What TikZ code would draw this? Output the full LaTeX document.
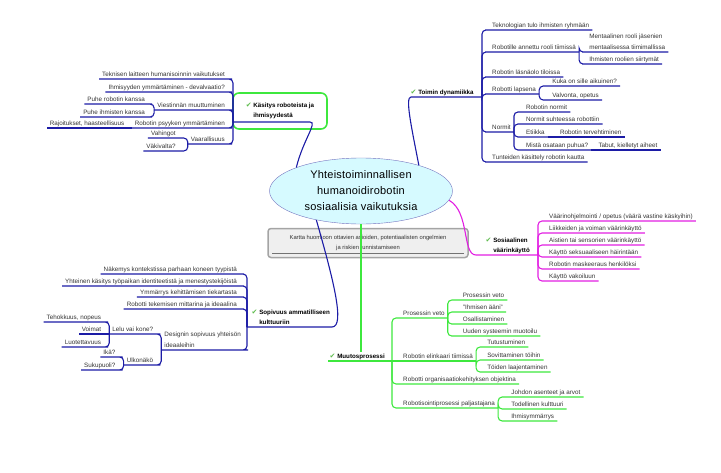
\documentclass[tikz,border=0pt]{standalone}
\usepackage{fontspec}
\setmainfont{Liberation Sans}
\newfontfamily\mmsym{DejaVu Sans}
\usepackage{xcolor}
\definecolor{mmnavy}{HTML}{1C1CA6}
\definecolor{mmpink}{HTML}{E21EE2}
\definecolor{mmgreen}{HTML}{3EE83E}
\definecolor{mmtick}{HTML}{5DBB4C}
\definecolor{mmtext}{HTML}{333333}
\definecolor{mmbubble}{HTML}{D6FAFF}
\definecolor{mmnote}{HTML}{EFEFEF}
\definecolor{mmframe}{HTML}{A4A4A4}
\usepackage{tikz}
\usetikzlibrary{calc,shapes.geometric}
\newcommand{\mmtick}{{\mmsym\color{mmtick}\fontsize{7}{7}\selectfont ✔}}
\tikzset{
  mmleaf/.style={font=\fontsize{6.3}{11}\selectfont,text=mmtext,inner xsep=3pt,inner ysep=1.5pt,text depth=1.3pt,align=left},
  mmright/.style={mmleaf,anchor=south west},
  mmleft/.style={mmleaf,anchor=south east},
  mmhead/.style={font=\bfseries\fontsize{6.2}{10}\selectfont,anchor=south west,inner sep=1.5pt,text depth=1.3pt,align=left},
  mmblue/.style={draw=mmnavy,line width=1.1pt,rounded corners=4pt},
  mmmagenta/.style={draw=mmpink,line width=1.1pt,rounded corners=4pt},
  mmlime/.style={draw=mmgreen,line width=1.1pt,rounded corners=4pt},
  bubble/.style={ellipse,draw=mmframe!70!blue,fill=mmbubble,minimum width=183pt,minimum height=66pt,inner sep=0pt,align=center,font=\fontsize{11}{16}\selectfont\addfontfeature{LetterSpace=2}},
  notebox/.style={draw=mmframe,line width=1.5pt,fill=mmnote,rounded corners=3pt,minimum width=200pt,minimum height=29pt,align=center,font=\fontsize{5.8}{10}\selectfont,text=mmtext},
  headbox/.style={draw=mmgreen,line width=1.6pt,rounded corners=6pt,minimum width=94pt,minimum height=36pt,font=\bfseries\fontsize{6.2}{10}\selectfont,align=left}
}

\begin{document}
\begin{tikzpicture}[x=1pt,y=-1pt]
\useasboundingbox (0,0) rectangle (721,472);

% centre topic and its note
\node[notebox] (note) at (368,243) {Kartta huomioon ottavien asioiden, potentiaalisten ongelmien\\ja riskien tunnistamiseen};
\draw[mmframe!70!black,line width=0.4pt] ($(note.south west)+(5,-5)$) -- ($(note.south east)+(-5,-5)$);
\node[bubble] (bub) at (361,191) {Yhteistoiminnallisen\\humanoidirobotin\\sosiaalisia vaikutuksia};

% Toimin dynamiikka
\node[mmhead] (tdl) at (409,97) {\mmtick\ Toimin dynamiikka};
\coordinate (tdfan) at (482,97);
\draw[mmblue] (bub.24) .. controls (411,125) and (405,97) .. (415,97) -- (tdfan);
\node[mmright] (td1) at (489,30) {Teknologian tulo ihmisten ryhmään};
\draw[mmblue] (tdfan) |- (td1.south west) -- (td1.south east);
\node[mmright] (td2) at (489,52) {Robotille annettu rooli tiimissä};
\draw[mmblue] (tdfan) |- (td2.south west) -- (td2.south east);
\node[mmright] (td2a) at ($(td2.south east)+(7,0)$) {Mentaalinen rooli jäsenien\\mentaalisessa tiimimallissa};
\draw[mmblue] (td2.south east) |- (td2a.south west) -- (td2a.south east);
\node[mmright] (td2b) at ($(td2.south east)+(7,12)$) {Ihmisten roolien siirtymät};
\draw[mmblue] (td2.south east) |- (td2b.south west) -- (td2b.south east);
\node[mmright] (td3) at (489,77) {Robotin läsnäolo tiloissa};
\draw[mmblue] (tdfan) |- (td3.south west) -- (td3.south east);
\node[mmright] (td4) at (489,94) {Robotti lapsena};
\draw[mmblue] (tdfan) |- (td4.south west) -- (td4.south east);
\node[mmright] (td4a) at ($(td4.south east)+(10,-8)$) {Kuka on sille aikuinen?};
\draw[mmblue] (td4.south east) |- (td4a.south west) -- (td4a.south east);
\node[mmright] (td4b) at ($(td4.south east)+(10,6)$) {Valvonta, opetus};
\draw[mmblue] (td4.south east) |- (td4b.south west) -- (td4b.south east);
\node[mmright] (td5) at (489,132) {Normit};
\draw[mmblue] (tdfan) |- (td5.south west) -- (td5.south east);
\node[mmright] (td5a) at ($(td5.south east)+(9,-20)$) {Robotin normit};
\draw[mmblue] (td5.south east) |- (td5a.south west) -- (td5a.south east);
\node[mmright] (td5b) at ($(td5.south east)+(9,-8)$) {Normit suhteessa robottiin};
\draw[mmblue] (td5.south east) |- (td5b.south west) -- (td5b.south east);
\node[mmright] (td5c) at ($(td5.south east)+(9,5)$) {Etiikka};
\draw[mmblue] (td5.south east) |- (td5c.south west) -- (td5c.south east);
\node[mmright] (td5c1) at ($(td5c.south east)+(9,0)$) {Robotin tervehtiminen};
\draw[mmblue] (td5c.south east) -- (td5c1.south west) -- (td5c1.south east);
\node[mmright] (td5d) at ($(td5.south east)+(9,18)$) {Mistä osataan puhua?};
\draw[mmblue] (td5.south east) |- (td5d.south west) -- (td5d.south east);
\node[mmright] (td5d1) at ($(td5d.south east)+(4,0)$) {Tabut, kielletyt aiheet};
\draw[mmblue] (td5d.south east) -- (td5d1.south west) -- (td5d1.south east);
\node[mmright] (td6) at (489,162) {Tunteiden käsittely robotin kautta};
\draw[mmblue] (tdfan) |- (td6.south west) -- (td6.south east);

% Kasitys roboteista ja ihmisyydesta
\node[headbox] (ktl) at (280,111) {\mmtick\ Käsitys roboteista ja\\\hphantom{\mmtick\ }ihmisyydestä};
\coordinate (ktfan) at (233,122);
\draw[mmblue] (bub.160) .. controls (303,140) and (318,122) .. (306,122) -- (ktfan);
\node[mmleft] (kt1) at (228,79) {Teknisen laitteen humanisoinnin vaikutukset};
\draw[mmblue] (ktfan) |- (kt1.south east) -- (kt1.south west);
\node[mmleft] (kt2) at (228,92) {Ihmisyyden ymmärtäminen - devalvaatio?};
\draw[mmblue] (ktfan) |- (kt2.south east) -- (kt2.south west);
\node[mmleft] (kt3) at (228,110) {Viestinnän muuttuminen};
\draw[mmblue] (ktfan) |- (kt3.south east) -- (kt3.south west);
\node[mmleft] (kt3a) at ($(kt3.south west)+(-6,-6)$) {Puhe robotin kanssa};
\draw[mmblue] (kt3.south west) |- (kt3a.south east) -- (kt3a.south west);
\node[mmleft] (kt3b) at ($(kt3.south west)+(-6,7)$) {Puhe ihmisten kanssa};
\draw[mmblue] (kt3.south west) |- (kt3b.south east) -- (kt3b.south west);
\node[mmleft] (kt4) at (228,128) {Robotin psyyken ymmärtäminen};
\draw[mmblue] (ktfan) |- (kt4.south east) -- (kt4.south west);
\node[mmleft] (kt4a) at ($(kt4.south west)+(-4,0)$) {Rajoitukset, haasteellisuus};
\draw[mmblue] (kt4.south west) -- (kt4a.south east) -- (kt4a.south west);
\node[mmleft] (kt5) at (228,144) {Vaarallisuus};
\draw[mmblue] (ktfan) |- (kt5.south east) -- (kt5.south west);
\node[mmleft] (kt5a) at ($(kt5.south west)+(-9,-6)$) {Vahingot};
\draw[mmblue] (kt5.south west) |- (kt5a.south east) -- (kt5a.south west);
\node[mmleft] (kt5b) at ($(kt5.south west)+(-9,7)$) {Väkivalta?};
\draw[mmblue] (kt5.south west) |- (kt5b.south east) -- (kt5b.south west);

% Sosiaalinen vaarinkaytto
\node[mmhead] (svl) at (484,255) {\mmtick\ Sosiaalinen\\\hphantom{\mmtick\ }väärinkäyttö};
\coordinate (svfan) at (538,255);
\draw[mmmagenta] (bub.-6) .. controls (470,212) and (462,255) .. (480,255) -- (svfan);
\node[mmright] (sv1) at (546,221) {Väärinohjelmointi / opetus (väärä vastine käskyihin)};
\draw[mmmagenta] (svfan) |- (sv1.south west) -- (sv1.south east);
\node[mmright] (sv2) at (546,233) {Liikkeiden ja voiman väärinkäyttö};
\draw[mmmagenta] (svfan) |- (sv2.south west) -- (sv2.south east);
\node[mmright] (sv3) at (546,245) {Aistien tai sensorien väärinkäyttö};
\draw[mmmagenta] (svfan) |- (sv3.south west) -- (sv3.south east);
\node[mmright] (sv4) at (546,257) {Käyttö seksuaaliseen häirintään};
\draw[mmmagenta] (svfan) |- (sv4.south west) -- (sv4.south east);
\node[mmright] (sv5) at (546,269) {Robotin maskeeraus henkilöksi};
\draw[mmmagenta] (svfan) |- (sv5.south west) -- (sv5.south east);
\node[mmright] (sv6) at (546,281) {Käyttö vakoiluun};
\draw[mmmagenta] (svfan) |- (sv6.south west) -- (sv6.south east);

% Sopivuus ammatilliseen kulttuuriin
\node[mmhead] (spl) at (250,327) {\mmtick\ Sopivuus ammatilliseen\\\hphantom{\mmtick\ }kulttuuriin};
\coordinate (spfan) at (247,327);
\draw[mmblue] (bub.213) .. controls (332,275) and (346,327) .. (328,327) -- (spfan);
\node[mmleft] (sp1) at (240,274) {Näkemys kontekstissa parhaan koneen tyypistä};
\draw[mmblue] (spfan) |- (sp1.south east) -- (sp1.south west);
\node[mmleft] (sp2) at (240,286) {Yhteinen käsitys työpaikan identiteetistä ja menestystekijöistä};
\draw[mmblue] (spfan) |- (sp2.south east) -- (sp2.south west);
\node[mmleft] (sp3) at (240,297) {Ymmärrys kehittämisen tiekartasta};
\draw[mmblue] (spfan) |- (sp3.south east) -- (sp3.south west);
\node[mmleft] (sp4) at (240,309) {Robotti tekemisen mittarina ja ideaalina};
\draw[mmblue] (spfan) |- (sp4.south east) -- (sp4.south west);
\node[mmleft] (sp5) at (244,350) {Designin sopivuus yhteisön\\ideaaleihin};
\draw[mmblue] (spfan) |- (sp5.south east) -- (sp5.south west);
\node[mmleft] (sp5a) at ($(sp5.south west)+(-5,-16)$) {Lelu vai kone?};
\draw[mmblue] (sp5.south west) |- (sp5a.south east) -- (sp5a.south west);
\node[mmleft] (sp5a1) at ($(sp5a.south west)+(-5,-12)$) {Tehokkuus, nopeus};
\draw[mmblue] (sp5a.south west) |- (sp5a1.south east) -- (sp5a1.south west);
\node[mmleft] (sp5a2) at ($(sp5a.south west)+(-5,0)$) {Voimat};
\draw[mmblue] (sp5a.south west) -- (sp5a2.south east) -- (sp5a2.south west);
\node[mmleft] (sp5a3) at ($(sp5a.south west)+(-5,13)$) {Luotettavuus};
\draw[mmblue] (sp5a.south west) |- (sp5a3.south east) -- (sp5a3.south west);
\node[mmleft] (sp5b) at ($(sp5.south west)+(-5,15)$) {Ulkonäkö};
\draw[mmblue] (sp5.south west) |- (sp5b.south east) -- (sp5b.south west);
\node[mmleft] (sp5b1) at ($(sp5b.south west)+(-5,-8)$) {Ikä?};
\draw[mmblue] (sp5b.south west) |- (sp5b1.south east) -- (sp5b1.south west);
\node[mmleft] (sp5b2) at ($(sp5b.south west)+(-5,5)$) {Sukupuoli?};
\draw[mmblue] (sp5b.south west) |- (sp5b2.south east) -- (sp5b2.south west);

% Muutosprosessi
\node[mmhead] (mpl) at (328,361) {\mmtick\ Muutosprosessi};
\coordinate (mpfan) at (392,361);
\draw[mmlime] (bub.south) -- (bub.south |- mpl.north);
\draw[mmlime] (mpl.south west) -- (mpfan);
\node[mmright] (mp1) at (400,318) {Prosessin veto};
\draw[mmlime] (mpfan) |- (mp1.south west) -- (mp1.south east);
\node[mmright] (mp1a) at ($(mp1.south east)+(12,-18)$) {Prosessin veto};
\draw[mmlime] (mp1.south east) |- (mp1a.south west) -- (mp1a.south east);
\node[mmright] (mp1b) at ($(mp1.south east)+(12,-6)$) {"Ihmisen ääni"};
\draw[mmlime] (mp1.south east) |- (mp1b.south west) -- (mp1b.south east);
\node[mmright] (mp1c) at ($(mp1.south east)+(12,6)$) {Osallistaminen};
\draw[mmlime] (mp1.south east) |- (mp1c.south west) -- (mp1c.south east);
\node[mmright] (mp1d) at ($(mp1.south east)+(12,18)$) {Uuden systeemin muotoilu};
\draw[mmlime] (mp1.south east) |- (mp1d.south west) -- (mp1d.south east);
\node[mmright] (mp2) at (400,361) {Robotin elinkaari tiimissä};
\draw[mmlime] (mpfan) -- (mp2.south west) -- (mp2.south east);
\node[mmright] (mp2a) at ($(mp2.south east)+(8,-14)$) {Tutustuminen};
\draw[mmlime] (mp2.south east) |- (mp2a.south west) -- (mp2a.south east);
\node[mmright] (mp2b) at ($(mp2.south east)+(8,-1)$) {Sovittaminen töihin};
\draw[mmlime] (mp2.south east) |- (mp2b.south west) -- (mp2b.south east);
\node[mmright] (mp2c) at ($(mp2.south east)+(8,11)$) {Töiden laajentaminen};
\draw[mmlime] (mp2.south east) |- (mp2c.south west) -- (mp2c.south east);
\node[mmright] (mp3) at (400,384) {Robotti organisaatiokehityksen objektina};
\draw[mmlime] (mpfan) |- (mp3.south west) -- (mp3.south east);
\node[mmright] (mp4) at (400,408) {Robotisointiprosessi paljastajana};
\draw[mmlime] (mpfan) |- (mp4.south west) -- (mp4.south east);
\node[mmright] (mp4a) at ($(mp4.south east)+(10,-11)$) {Johdon asenteet ja arvot};
\draw[mmlime] (mp4.south east) |- (mp4a.south west) -- (mp4a.south east);
\node[mmright] (mp4b) at ($(mp4.south east)+(10,1)$) {Todellinen kulttuuri};
\draw[mmlime] (mp4.south east) |- (mp4b.south west) -- (mp4b.south east);
\node[mmright] (mp4c) at ($(mp4.south east)+(10,13)$) {Ihmisymmärrys};
\draw[mmlime] (mp4.south east) |- (mp4c.south west) -- (mp4c.south east);
\end{tikzpicture}
\end{document}
